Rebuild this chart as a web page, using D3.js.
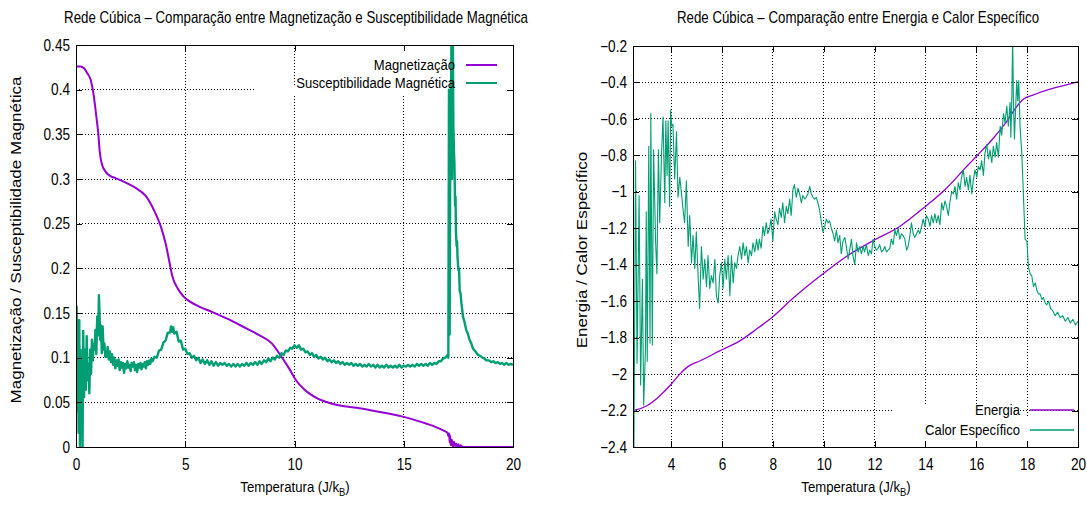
<!DOCTYPE html>
<html>
<head>
<meta charset="utf-8">
<script src="https://cdn.jsdelivr.net/npm/d3@7"></script>
<style>
  body { margin: 0; background: #fff; }
  svg text { font-family: "Liberation Sans", Arial, sans-serif; fill: #000; }
</style>
</head>
<body>
<svg id="fig" width="1087" height="506"></svg>
<script>
// ---------- data ----------
// Magnetização (T, M)
const magnetizacao = [
  [0,0.426],[0.2,0.426],[0.37,0.424],[0.5,0.419],[0.67,0.411],[0.82,0.392],[0.93,0.37],
  [1.02,0.351],[1.08,0.332],[1.17,0.318],[1.36,0.308],[1.6,0.303],[1.81,0.301],[2.27,0.296],
  [2.73,0.29],[3.19,0.281],[3.57,0.265],[3.88,0.247],[4.10,0.228],[4.26,0.209],[4.41,0.191],
  [4.64,0.178],[4.94,0.168],[5.48,0.159],[6.24,0.151],[7.15,0.141],[7.77,0.133],[8.4,0.125],
  [8.96,0.116],[9.35,0.103],[9.75,0.088],[10.06,0.075],[10.46,0.064],[11.0,0.055],[11.64,0.049],
  [13.06,0.043],[14.95,0.034],[16.06,0.026],[16.5,0.022],[16.85,0.018],[17.0,0.016],[17.05,0.012],
  [17.08,0.015],[17.1,0.005],[17.12,0.013],[17.15,0.002],[17.2,0.008],[17.25,0.0],[17.3,0.006],
  [17.35,0.001],[17.4,0.004],[17.45,0.0],[17.5,0.003],[17.55,0.0],[17.6,0.002],[17.7,0.0],[20,0]
];

// Susceptibilidade Magnética (T, χ)
const susceptibilidade = [
  [0.0,0.10],[0.03,0.157],[0.06,0.04],[0.09,0.142],[0.12,0.016],[0.15,0.142],[0.18,0.0],[0.21,0.109],
  [0.24,0.024],[0.27,0.086],[0.30,0.0],[0.33,0.13],[0.37,0.056],[0.41,0.109],[0.45,0.064],[0.49,0.124],
  [0.53,0.075],[0.57,0.093],[0.61,0.06],[0.65,0.109],[0.69,0.082],[0.73,0.12],[0.77,0.097],[0.81,0.115],
  [0.85,0.109],[0.89,0.131],[0.93,0.104],[0.97,0.146],[1.02,0.125],[1.05,0.17],[1.08,0.146],[1.11,0.12],
  [1.14,0.136],[1.18,0.105],[1.22,0.135],[1.26,0.109],[1.30,0.116],[1.34,0.101],[1.40,0.101],[1.45,0.112],
  [1.50,0.098],[1.55,0.107],[1.60,0.095],[1.65,0.104],[1.70,0.092],[1.75,0.1],[1.80,0.088],[1.85,0.097],
  [1.90,0.091],[1.95,0.098],[2.00,0.086],[2.05,0.095],[2.10,0.089],[2.15,0.094],[2.20,0.083],[2.25,0.093],
  [2.30,0.088],[2.35,0.096],[2.40,0.089],[2.45,0.092],[2.50,0.085],[2.55,0.094],[2.60,0.09],[2.65,0.095],
  [2.70,0.086],[2.75,0.092],[2.80,0.084],[2.85,0.093],[2.90,0.089],[2.95,0.094],[3.00,0.087],[3.05,0.093],
  [3.10,0.09],[3.15,0.095],[3.20,0.088],[3.25,0.096],[3.30,0.092],[3.35,0.097],[3.40,0.093],[3.45,0.099],
  [3.50,0.096],[3.6,0.101],[3.7,0.1],[3.8,0.108],[3.9,0.109],[4.0,0.117],[4.1,0.119],[4.2,0.128],
  [4.3,0.128],[4.35,0.135],[4.4,0.129],[4.45,0.134],[4.5,0.127],[4.6,0.129],[4.7,0.118],[4.8,0.119],
  [4.9,0.109],[5.0,0.11],[5.1,0.104],[5.2,0.105],[5.3,0.1],[5.4,0.102],[5.5,0.097],[5.6,0.1],
  [5.7,0.094],[5.8,0.098],[5.9,0.093],[6.0,0.097],[6.1,0.092],[6.2,0.096],[6.3,0.091],[6.4,0.095],
  [6.5,0.091],[6.6,0.094],[6.7,0.092],[6.8,0.094],[6.9,0.091],[7.0,0.093],[7.1,0.09],[7.2,0.093],
  [7.3,0.09],[7.4,0.093],[7.5,0.09],[7.6,0.093],[7.7,0.091],[7.8,0.094],[7.9,0.091],[8.0,0.094],
  [8.1,0.092],[8.2,0.095],[8.3,0.092],[8.4,0.096],[8.5,0.093],[8.6,0.097],[8.7,0.095],[8.8,0.099],
  [8.9,0.096],[9.0,0.1],[9.1,0.098],[9.2,0.102],[9.3,0.1],[9.4,0.105],[9.5,0.103],[9.6,0.108],
  [9.7,0.107],[9.8,0.111],[9.9,0.11],[10.0,0.114],[10.1,0.111],[10.2,0.114],[10.3,0.109],[10.4,0.11],
  [10.5,0.106],[10.6,0.107],[10.7,0.103],[10.8,0.105],[10.9,0.101],[11.0,0.103],[11.1,0.099],[11.2,0.101],
  [11.3,0.098],[11.4,0.1],[11.5,0.096],[11.6,0.098],[11.7,0.095],[11.8,0.097],[11.9,0.094],[12.0,0.096],
  [12.1,0.093],[12.2,0.095],[12.3,0.092],[12.4,0.094],[12.5,0.092],[12.6,0.094],[12.7,0.091],[12.8,0.093],
  [12.9,0.091],[13.0,0.093],[13.1,0.09],[13.2,0.092],[13.3,0.09],[13.4,0.093],[13.5,0.09],[13.6,0.092],
  [13.7,0.089],[13.8,0.092],[13.9,0.089],[14.0,0.091],[14.1,0.089],[14.2,0.092],[14.3,0.089],[14.4,0.091],
  [14.5,0.089],[14.6,0.091],[14.7,0.089],[14.8,0.092],[14.9,0.089],[15.0,0.091],[15.1,0.09],[15.2,0.092],
  [15.3,0.09],[15.4,0.092],[15.5,0.09],[15.6,0.093],[15.7,0.091],[15.8,0.093],[15.9,0.091],[16.0,0.093],
  [16.1,0.091],[16.2,0.094],[16.3,0.092],[16.4,0.094],[16.5,0.093],[16.6,0.096],[16.7,0.096],[16.8,0.099],
  [16.9,0.1],[17.0,0.103],[17.04,0.1],[17.07,0.40],[17.1,0.126],[17.13,0.335],[17.16,0.36],[17.19,0.49],
  [17.21,0.30],[17.24,0.49],[17.27,0.36],[17.30,0.33],[17.32,0.317],[17.35,0.27],[17.37,0.28],[17.39,0.24],
  [17.42,0.225],[17.44,0.23],[17.46,0.213],[17.5,0.198],[17.53,0.2],[17.56,0.175],[17.6,0.172],[17.64,0.161],
  [17.71,0.146],[17.78,0.14],[17.86,0.131],[17.93,0.127],[18.01,0.12],[18.09,0.116],[18.17,0.11],[18.28,0.107],
  [18.4,0.103],[18.5,0.102],[18.6,0.1],[18.7,0.099],[18.78,0.097],[18.9,0.097],[19.0,0.095],[19.1,0.096],
  [19.2,0.094],[19.3,0.095],[19.4,0.093],[19.5,0.094],[19.6,0.092],[19.7,0.094],[19.8,0.092],[19.9,0.093],
  [20,0.092]
];

// Energia (T, E)
const energia = [
  [2.5,-2.2],[2.57,-2.198],[3.03,-2.175],[3.55,-2.12],[4.0,-2.056],[4.34,-2.0],[4.66,-1.959],
  [5.13,-1.928],[5.91,-1.873],[6.7,-1.818],[7.35,-1.754],[8.0,-1.685],[8.79,-1.584],[10.0,-1.447],
  [10.89,-1.355],[12.0,-1.264],[12.99,-1.19],[14.0,-1.08],[14.83,-0.98],[15.62,-0.861],[16.0,-0.806],
  [16.67,-0.706],[17.2,-0.614],[17.59,-0.532],[17.86,-0.491],[18.25,-0.468],[18.9,-0.437],
  [19.5,-0.415],[20,-0.397]
];

// Calor Específico (T, C)
const calorEspecifico = [
  [2.50,-0.42],[2.53,-2.6],[2.60,-0.83],[2.66,-1.94],[2.74,-1.02],[2.80,-2.06],[2.87,-1.48],[2.92,-2.17],
  [2.99,-1.86],[3.02,-1.11],[3.06,-1.93],[3.12,-0.75],[3.17,-1.83],[3.20,-0.57],[3.26,-1.84],[3.31,-0.77],
  [3.39,-1.28],[3.44,-1.45],[3.50,-0.77],[3.55,-1.17],[3.62,-0.80],[3.68,-0.59],[3.75,-1.06],[3.79,-0.61],
  [3.84,-0.91],[3.88,-0.61],[3.94,-1.08],[3.98,-0.55],[4.02,-0.64],[4.07,-0.63],[4.14,-0.93],[4.21,-0.67],
  [4.27,-1.03],[4.34,-0.92],[4.40,-1.00],[4.47,-1.10],[4.53,-1.17],[4.60,-0.94],[4.67,-1.30],[4.73,-1.13],
  [4.80,-1.39],[4.86,-1.24],[4.93,-1.42],[4.99,-1.22],[5.06,-1.46],[5.12,-1.64],[5.19,-1.30],[5.26,-1.48],
  [5.32,-1.37],[5.39,-1.52],[5.45,-1.35],[5.52,-1.53],[5.58,-1.46],[5.65,-1.50],[5.72,-1.37],[5.78,-1.57],
  [5.85,-1.61],[5.91,-1.46],[5.98,-1.39],[6.04,-1.53],[6.11,-1.37],[6.17,-1.48],[6.24,-1.35],[6.31,-1.57],
  [6.37,-1.35],[6.44,-1.50],[6.50,-1.39],[6.57,-1.42],[6.63,-1.35],[6.70,-1.30],[6.77,-1.37],[6.83,-1.28],
  [6.90,-1.35],[6.96,-1.30],[7.03,-1.39],[7.09,-1.32],[7.16,-1.35],[7.22,-1.28],[7.29,-1.33],[7.36,-1.26],
  [7.42,-1.32],[7.47,-1.26],[7.54,-1.31],[7.61,-1.19],[7.67,-1.24],[7.74,-1.17],[7.80,-1.23],[7.87,-1.20],
  [7.93,-1.15],[8.00,-1.27],[8.07,-1.11],[8.13,-1.15],[8.20,-1.18],[8.26,-1.09],[8.33,-1.14],[8.39,-1.06],
  [8.46,-1.17],[8.53,-1.08],[8.59,-1.12],[8.66,-1.04],[8.72,-1.13],[8.79,-0.99],[8.85,-0.96],[8.92,-1.03],
  [8.99,-0.98],[9.05,-1.01],[9.12,-1.06],[9.18,-1.02],[9.25,-1.04],[9.31,-1.03],[9.38,-1.01],[9.45,-0.97],
  [9.51,-1.01],[9.58,-1.03],[9.64,-1.04],[9.71,-1.03],[9.77,-1.06],[9.84,-1.10],[9.91,-1.17],[9.97,-1.22],
  [10.04,-1.19],[10.10,-1.15],[10.17,-1.17],[10.23,-1.16],[10.30,-1.20],[10.37,-1.23],[10.43,-1.27],[10.50,-1.21],
  [10.56,-1.28],[10.63,-1.24],[10.69,-1.34],[10.76,-1.27],[10.83,-1.25],[10.89,-1.30],[10.96,-1.37],[11.02,-1.32],
  [11.09,-1.26],[11.15,-1.35],[11.22,-1.40],[11.29,-1.28],[11.35,-1.33],[11.42,-1.30],[11.48,-1.34],[11.55,-1.30],
  [11.61,-1.33],[11.68,-1.29],[11.75,-1.35],[11.81,-1.32],[11.88,-1.34],[11.94,-1.26],[12.01,-1.30],[12.07,-1.32],
  [12.14,-1.31],[12.20,-1.29],[12.27,-1.33],[12.34,-1.32],[12.40,-1.30],[12.47,-1.33],[12.53,-1.32],[12.60,-1.31],
  [12.66,-1.26],[12.73,-1.29],[12.80,-1.21],[12.86,-1.24],[12.93,-1.20],[12.99,-1.26],[13.06,-1.23],[13.12,-1.24],
  [13.19,-1.26],[13.26,-1.32],[13.32,-1.30],[13.39,-1.24],[13.45,-1.17],[13.52,-1.23],[13.58,-1.25],[13.65,-1.23],
  [13.72,-1.21],[13.78,-1.23],[13.85,-1.19],[13.91,-1.15],[13.98,-1.19],[14.04,-1.13],[14.11,-1.15],[14.18,-1.19],
  [14.24,-1.13],[14.31,-1.17],[14.37,-1.12],[14.44,-1.17],[14.50,-1.13],[14.57,-1.18],[14.64,-1.06],[14.70,-1.10],
  [14.77,-1.05],[14.83,-1.08],[14.90,-1.13],[14.96,-1.06],[15.03,-1.00],[15.10,-1.01],[15.16,-0.97],[15.23,-1.04],
  [15.29,-0.95],[15.36,-0.99],[15.42,-0.92],[15.49,-0.88],[15.56,-0.97],[15.62,-0.92],[15.69,-0.99],[15.75,-0.91],
  [15.82,-1.01],[15.88,-0.94],[15.95,-0.88],[16.02,-0.92],[16.08,-0.86],[16.15,-0.88],[16.21,-0.83],[16.28,-0.91],
  [16.34,-0.79],[16.41,-0.74],[16.48,-0.82],[16.54,-0.77],[16.61,-0.84],[16.67,-0.75],[16.74,-0.81],[16.80,-0.73],
  [16.87,-0.81],[16.94,-0.64],[17.00,-0.69],[17.07,-0.57],[17.13,-0.62],[17.20,-0.53],[17.26,-0.64],[17.33,-0.51],
  [17.36,-0.70],[17.40,-0.46],[17.43,-0.15],[17.46,-0.50],[17.50,-0.71],[17.54,-0.57],[17.59,-0.39],[17.63,-0.50],
  [17.67,-0.39],[17.72,-0.64],[17.79,-0.79],[17.86,-1.04],[17.92,-1.26],[17.99,-1.27],[18.05,-1.41],[18.12,-1.45],
  [18.18,-1.46],[18.25,-1.52],[18.32,-1.50],[18.38,-1.54],[18.45,-1.56],[18.51,-1.56],[18.58,-1.59],[18.64,-1.58],
  [18.71,-1.61],[18.77,-1.62],[18.85,-1.60],[18.92,-1.64],[19.00,-1.65],[19.10,-1.68],[19.20,-1.66],[19.30,-1.69],
  [19.40,-1.68],[19.50,-1.71],[19.60,-1.69],[19.70,-1.72],[19.80,-1.70],[19.90,-1.73],[20.00,-1.71]
];

// tick values
const magXTicks = [0, 5, 10, 15, 20];
const magYTicks = [0, 0.05, 0.1, 0.15, 0.2, 0.25, 0.3, 0.35, 0.4, 0.45];
const enXTicks = [4, 6, 8, 10, 12, 14, 16, 18, 20];
const enYTicks = [-2.4, -2.2, -2, -1.8, -1.6, -1.4, -1.2, -1, -0.8, -0.6, -0.4, -0.2];

// ---------- drawing ----------
const svg = d3.select("#fig");
const defs = svg.append("defs");
const PURPLE = "#9400d3", GREEN = "#009e73";
const fmt = d3.format("~g");

// text narrowed horizontally (sq < 1)
function squeezedText(g, x, y, str, anchor, size, sq) {
  return g.append("text")
    .attr("transform", `translate(${x},${y}) scale(${sq},1)`)
    .attr("text-anchor", anchor)
    .attr("font-size", size)
    .text(str);
}

function drawPanel(cfg) {
  const p = cfg.box;
  const x = d3.scaleLinear().domain(cfg.xDomain).range([p.left, p.right]);
  const y = d3.scaleLinear().domain(cfg.yDomain).range([p.bottom, p.top]);
  const g = svg.append("g");

  // clip & key mask (grid is not drawn under the key)
  defs.append("clipPath").attr("id", cfg.id + "-clip")
    .append("rect").attr("x", p.left).attr("y", p.top)
    .attr("width", p.right - p.left).attr("height", p.bottom - p.top);
  const mask = defs.append("mask").attr("id", cfg.id + "-mask");
  mask.append("rect").attr("width", 1087).attr("height", 506).attr("fill", "#fff");
  cfg.keyBoxes.forEach(b => {
    mask.append("rect").attr("x", b[0]).attr("y", b[1])
      .attr("width", b[2]).attr("height", b[3]).attr("fill", "#000");
  });

  // dotted grid
  const grid = g.append("g").attr("mask", `url(#${cfg.id}-mask)`)
    .attr("stroke", "#000").attr("stroke-width", 1).attr("stroke-dasharray", "1,2")
    .attr("shape-rendering", "crispEdges");
  const dx = x.domain();
  grid.selectAll("line.gx").data(cfg.xTicks.filter(t => t > dx[0] && t < dx[1])).join("line")
    .attr("x1", d => x(d)).attr("x2", d => x(d)).attr("y1", p.top).attr("y2", p.bottom);
  const dy = y.domain();
  grid.selectAll("line.gy").data(cfg.yTicks.filter(t => t > dy[0] && t < dy[1])).join("line")
    .attr("y1", d => y(d)).attr("y2", d => y(d)).attr("x1", p.left).attr("x2", p.right);

  // series
  const plot = g.append("g").attr("clip-path", `url(#${cfg.id}-clip)`);
  cfg.series.forEach(s => {
    const line = d3.line().x(d => x(d[0])).y(d => y(d[1]))
      .curve(s.smooth ? d3.curveMonotoneX : d3.curveLinear);
    plot.append("path").datum(s.data)
      .attr("fill", "none").attr("stroke", s.color).attr("stroke-width", s.width)
      .attr("stroke-linejoin", "round").attr("d", line);
  });

  // axes with inward mirrored ticks
  const T = 6, TS = 0.85;
  const axB = g.append("g").attr("transform", `translate(0,${p.bottom})`)
    .call(d3.axisBottom(x).tickValues(cfg.xTicks).tickSize(-T).tickPadding(12).tickFormat(fmt));
  const axT = g.append("g").attr("transform", `translate(0,${p.top})`)
    .call(d3.axisTop(x).tickValues(cfg.xTicks).tickSize(-T).tickFormat(""));
  const axL = g.append("g").attr("transform", `translate(${p.left},0)`)
    .call(d3.axisLeft(y).tickValues(cfg.yTicks).tickSize(-T).tickPadding(6).tickFormat(fmt));
  const axR = g.append("g").attr("transform", `translate(${p.right},0)`)
    .call(d3.axisRight(y).tickValues(cfg.yTicks).tickSize(-T).tickFormat(""));
  [axB, axT, axL, axR].forEach(a => {
    a.select(".domain").remove();
    a.selectAll(".tick line").attr("stroke", "#000").attr("shape-rendering", "crispEdges");
    a.selectAll("text").attr("font-size", 16).attr("font-family", null).attr("fill", "#000");
  });
  axB.selectAll(".tick text").attr("transform", `scale(${TS},1)`);
  axL.selectAll(".tick text").attr("transform", `scale(${TS},1)`).attr("x", -6 / TS);

  // frame
  g.append("rect").attr("x", p.left).attr("y", p.top)
    .attr("width", p.right - p.left).attr("height", p.bottom - p.top)
    .attr("fill", "none").attr("stroke", "#000").attr("stroke-width", 1)
    .attr("shape-rendering", "crispEdges");

  // key
  cfg.series.forEach((s, i) => {
    const ky = cfg.keyRows[i];
    squeezedText(g, cfg.keyTextX, ky, s.name, "end", 15, 0.87).attr("dy", "0.35em");
    g.append("line").attr("x1", cfg.keyLine[0]).attr("x2", cfg.keyLine[1])
      .attr("y1", ky).attr("y2", ky).attr("stroke", s.color).attr("stroke-width", s.keyWidth);
  });

  // title
  squeezedText(g, cfg.titleX, 23, cfg.title, "middle", 16, 0.83);

  // x label with subscript
  const xl = g.append("text")
    .attr("transform", `translate(${cfg.xLabelX},${492}) scale(0.85,1)`)
    .attr("text-anchor", "middle").attr("font-size", 15.5);
  xl.append("tspan").text("Temperatura (J/k");
  xl.append("tspan").attr("font-size", 11).attr("dy", 4).text("B");
  xl.append("tspan").attr("dy", -4).text(")");

  // y label
  g.append("text")
    .attr("transform", `translate(${cfg.yLabelPos[0]},${cfg.yLabelPos[1]}) scale(0.85,1) rotate(-90)`)
    .attr("text-anchor", "middle").attr("dy", "0.35em").attr("font-size", 17)
    .text(cfg.yLabel);
}

drawPanel({
  id: "mag",
  box: { left: 76, right: 513, top: 45, bottom: 447 },
  xDomain: [0, 20], yDomain: [0, 0.45],
  xTicks: magXTicks, yTicks: magYTicks,
  keyBoxes: [[256, 85, 265, 10], [340, 40, 180, 52]],
  series: [
    { name: "Magnetização", data: magnetizacao, color: PURPLE, width: 2, keyWidth: 2, smooth: true },
    { name: "Susceptibilidade Magnética", data: susceptibilidade, color: GREEN, width: 2.4, keyWidth: 2, smooth: false }
  ],
  keyRows: [65, 83], keyTextX: 455, keyLine: [466, 497],
  title: "Rede Cúbica – Comparação entre Magnetização e Susceptibilidade Magnética",
  titleX: 296, xLabelX: 295,
  yLabel: "Magnetização / Susceptibilidade Magnética", yLabelPos: [16, 240]
});

drawPanel({
  id: "en",
  box: { left: 633, right: 1078, top: 46, bottom: 447 },
  xDomain: [2.5, 20], yDomain: [-2.4, -0.2],
  xTicks: enXTicks, yTicks: enYTicks,
  keyBoxes: [[894, 405, 120, 50], [1014, 416, 80, 40]],
  series: [
    { name: "Energia", data: energia, color: PURPLE, width: 1.3, keyWidth: 1.3, smooth: true },
    { name: "Calor Específico", data: calorEspecifico, color: GREEN, width: 1.1, keyWidth: 1.3, smooth: false }
  ],
  keyRows: [410, 430], keyTextX: 1020, keyLine: [1030, 1074],
  title: "Rede Cúbica – Comparação entre Energia e Calor Específico",
  titleX: 858, xLabelX: 856,
  yLabel: "Energia / Calor Específico", yLabelPos: [582, 250]
});
</script>
</body>
</html>
